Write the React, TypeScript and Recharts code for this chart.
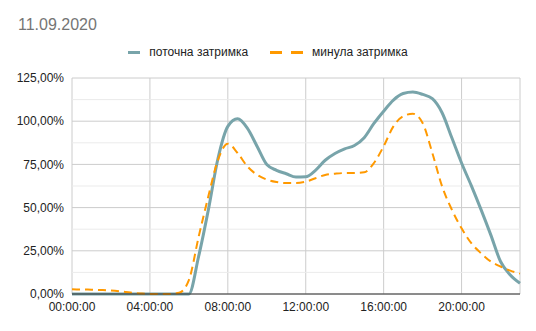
import { LineChart, Line, XAxis, YAxis, CartesianGrid, ReferenceLine } from 'recharts'

const hours = [
  0, 0.5, 1, 1.5, 2, 2.5, 3, 3.5, 4, 4.5, 5, 5.5, 6, 6.5, 7, 7.5, 8, 8.5, 9, 9.5, 10, 10.5, 11, 11.5,
  12, 12.5, 13, 13.5, 14, 14.5, 15, 15.5, 16, 16.5, 17, 17.5, 18, 18.5, 19, 19.5, 20, 20.5, 21, 21.5,
  22, 22.5, 23,
]

// поточна затримка, %
const current = [
  0, 0, 0, 0, 0, 0, 0, 0, 0, 0, 0, 0, 0, 21.7, 48.7, 78.7, 97, 101.4, 96, 85.5, 74.9, 71.6, 69.6, 67.7,
  67.8, 71.6, 77.4, 81.3, 84, 85.9, 90.4, 98.7, 105.8, 112.2, 116, 116.9, 115.5, 113, 104.9, 90.4, 75.8,
  62.7, 48.8, 34.2, 18.8, 11, 6.2,
]

// минула затримка, %
const previous = [
  2.7, 2.6, 2.5, 2.3, 2.0, 1.5, 0.8, 0.3, 0, 0, 0, 0.7, 8, 33, 56.5, 77.8, 87, 81.6, 73.9, 69, 66.2, 64.8,
  64.2, 64.2, 65, 67, 68.9, 69.6, 70, 70, 70.4, 75.8, 85.5, 97, 102.9, 104.3, 99, 81.6, 62.3, 48.8, 38,
  29.4, 23.6, 18.8, 15.9, 13.5, 11.8,
]

const xTicks = [0, 4, 8, 12, 16, 20]
const xTickLabels = ['00:00:00', '04:00:00', '08:00:00', '12:00:00', '16:00:00', '20:00:00']
const yTicks = [0, 25, 50, 75, 100, 125]
const yMinor = [12.5, 37.5, 62.5, 87.5, 112.5]

const TEAL = '#78a4aa'
const ORANGE = '#ff9900'
const FONT = '"Liberation Sans", Arial, sans-serif'

const data = hours.map((h, i) => ({ h, current: current[i], previous: previous[i] }))

const fmtPct = (v: number) => v.toFixed(2).replace('.', ',') + '%'
const fmtHour = (v: number) => xTickLabels[xTicks.indexOf(v)] ?? ''

export default function App() {
  return (
    <div style={{ position: 'absolute', left: 0, top: 0, width: 536, height: 331, background: '#fff', fontFamily: FONT }}>
      <div style={{ position: 'absolute', left: 18, top: 16, fontSize: 16, color: '#757575' }}>11.09.2020</div>
      <div
        style={{
          position: 'absolute',
          left: 0,
          top: 45,
          width: 536,
          display: 'flex',
          justifyContent: 'center',
          alignItems: 'center',
          fontSize: 12,
          color: '#222',
          gap: 22,
        }}
      >
        <div style={{ display: 'flex', alignItems: 'center', gap: 9 }}>
          <span style={{ width: 12, height: 3, background: TEAL, display: 'inline-block' }} />
          <span>поточна затримка</span>
        </div>
        <div style={{ display: 'flex', alignItems: 'center', gap: 9 }}>
          <span style={{ display: 'inline-flex', gap: 9 }}>
            <span style={{ width: 12, height: 3, background: ORANGE, display: 'inline-block' }} />
            <span style={{ width: 12, height: 3, background: ORANGE, display: 'inline-block' }} />
          </span>
          <span>минула затримка</span>
        </div>
      </div>
      <LineChart
        width={536}
        height={331}
        data={data}
        margin={{ top: 78, right: 16, left: 0, bottom: 7 }}
        style={{ position: 'absolute', left: 0, top: 0 }}
      >
        <CartesianGrid stroke="#cccccc" />
        {yMinor.map((v) => (
          <ReferenceLine key={v} y={v} stroke="#ebebeb" />
        ))}
        <XAxis
          dataKey="h"
          type="number"
          domain={[0, 23]}
          ticks={xTicks}
          tickFormatter={fmtHour}
          tickLine={false}
          axisLine={{ stroke: '#333' }}
          height={30}
          tick={{ fontSize: 12, fill: '#222', fontFamily: FONT }}
        />
        <YAxis
          domain={[0, 125]}
          ticks={yTicks}
          tickFormatter={fmtPct}
          tickLine={false}
          axisLine={false}
          width={72}
          tick={{ fontSize: 12, fill: '#222', fontFamily: FONT }}
        />
        <Line
          type="monotone"
          dataKey="current"
          stroke={TEAL}
          strokeWidth={3}
          dot={false}
          activeDot={false}
          isAnimationActive={false}
        />
        <Line
          type="monotone"
          dataKey="previous"
          stroke={ORANGE}
          strokeWidth={2}
          strokeDasharray="8 5"
          dot={false}
          activeDot={false}
          isAnimationActive={false}
        />
      </LineChart>
    </div>
  )
}
